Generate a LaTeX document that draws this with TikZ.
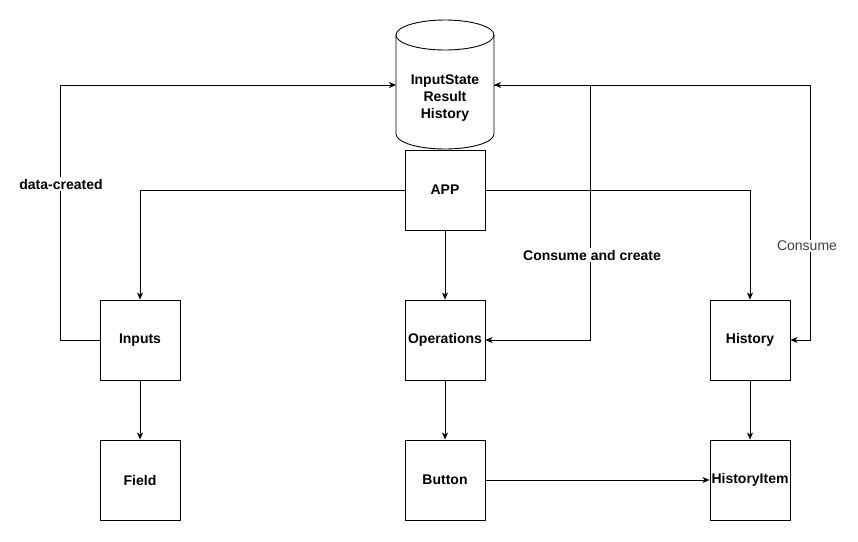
\documentclass[tikz,border=0pt]{standalone}
\usepackage{fontspec}
\setmainfont{Liberation Sans}
\usetikzlibrary{arrows.meta}
\begin{document}
\begin{tikzpicture}[x=1pt,y=-1pt,
  box/.style={draw,line width=0.9pt,minimum width=80pt,minimum height=80pt,inner sep=0pt,font=\fontsize{14}{16}\selectfont\bfseries},
  conn/.style={draw,line width=0.9pt,-{Stealth[length=7pt,width=6pt,inset=2pt]}},
  plain/.style={draw,line width=0.9pt},
  lbl/.style={fill=white,inner sep=1.5pt,font=\fontsize{14}{16}\selectfont\bfseries}]
\useasboundingbox (0,0) rectangle (858,541);
% cylinder (drawn directly)
\draw[line width=0.9pt] (396,35) -- (396,134) arc[start angle=180,end angle=0,x radius=49,y radius=15] -- (494,35);
\draw[line width=0.9pt] (445,35) ellipse [x radius=49,y radius=15];
\node[align=center,inner sep=0pt,font=\fontsize{14}{17}\selectfont\bfseries] (db) at (445,98) {InputState\\Result\\History};
\coordinate (dbL) at (396,85);
\coordinate (dbR) at (494,85);
\node[box] (app) at (445,190) {APP};
\node[box] (inputs) at (140,340) {Inputs};
\node[box] (ops) at (445,340) {Operations};
\node[box] (hist) at (750,340) {History};
\node[box] (field) at (140,480) {Field};
\node[box] (button) at (445,480) {Button};
\node[box] (item) at (750,480) {HistoryItem};
\coordinate (c1) at (590,85);
\coordinate (c2) at (810,85);
\coordinate (c0a) at (60,340);
\coordinate (c0b) at (60,85);
% connectors
\draw[conn] (app.west) -| (inputs.north);
\draw[conn] (app.south) -- (ops.north);
\draw[conn] (app.east) -| (hist.north);
\draw[conn] (inputs.south) -- (field.north);
\draw[conn] (ops.south) -- (button.north);
\draw[conn] (hist.south) -- (item.north);
\draw[conn] (button.east) -- (item.west);
\draw[conn] (inputs.west) -- (c0a) -- (c0b) -- (dbL);
\draw[plain] (c2) -- (dbR);
\draw[conn] (c1) -- (dbR);
\draw[conn] (c1) |- (ops.east);
\draw[conn] (c2) |- (hist.east);
% labels
\node[lbl] (l1) at (61,184) {data-created};
\node[lbl] (l2) at (592,255) {Consume and create};
\node[fill=white,inner sep=1.5pt,font=\fontsize{14}{16}\selectfont,text=black!75] (l3) at (807,246) {Consume};
\end{tikzpicture}
\end{document}
